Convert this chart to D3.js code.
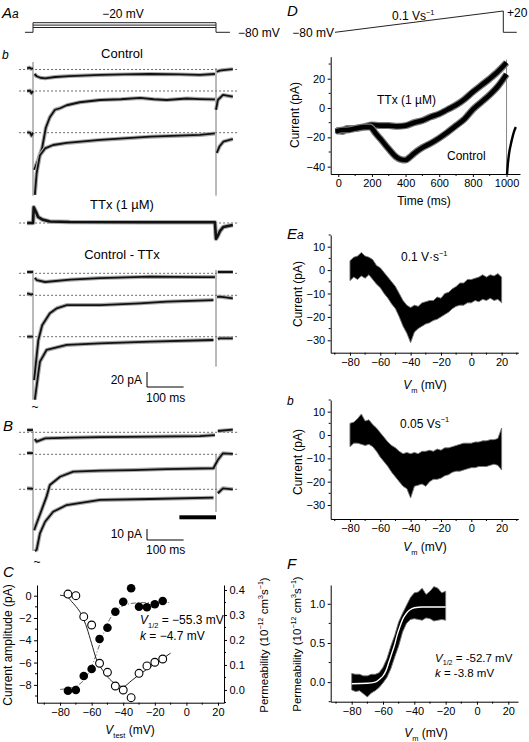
<!DOCTYPE html>
<html><head><meta charset="utf-8">
<script src="https://cdn.jsdelivr.net/npm/d3@7"></script>
<style>body{margin:0;background:#fff}svg{display:block}text{font-family:'Liberation Sans',Arial,Helvetica,sans-serif;fill:#000}</style>
</head><body><svg id="c" width="529" height="742"></svg>
<script>
// ---------------- DATA ----------------
// Panel Aa: voltage protocol (mV)
const protoA_hold = -80;
const protoA_steps = [-20, -35, -50];
// Panel Ab sweeps: [time ms, current pA] (null = break at capacitive transient)
const ctrlSweep1 = [[-16,1.6],[-10,2.5],[-5,1],[0,1.5],null,[4,-6],[10,-9],[20,-11],[33,-11.7],[60,-10],[100,-8.7],[183,-7.3],[250,-6.5],[320,-6],[400,-6.5],[456,-7.3],[497,-6],null,[502,-3],[510,-1.5],[520,-0.7],[546,0.5]];
const ctrlSweep2 = [[-16,0],[-8,0.5],[-4,-3],[0,0],null,[3,-105],[14,-92],[25,-76],[35,-49],[46,-35],[60,-25],[74,-23],[92,-19],[128,-15],[183,-12],[240,-11],[293,-9.3],[330,-11],[365,-12],[420,-10],[456,-10.7],[497,-11.3],null,[500,-25],[505,-12],[519,-5.3],[546,-7.6]];
const ctrlSweep3 = [[-16,0.5],[-8,0],[-4,-4],[0,0],null,[5,-83],[10,-54],[19,-30],[33,-21],[55,-16.4],[92,-13.7],[183,-9.7],[320,-5.3],[456,-3],[497,-1],null,[502,-27],[510,-18],[520,-12],[546,-8.4]];
const ttxSweep = [[-16,0],[0,0],[2,21],[8,15],[14,8],[25,4.7],[46,2],[100,1.3],[300,1],[497,1],[500,-21],[505,-17],[511,-10.7],[520,-5.3],[546,-2.7]];
const diffSweep1 = [[-16,1.7],[0,1.7],null,[5,-6],[10,-9],[33,-11.6],[101,-8.5],[183,-6.3],[320,-4.5],[456,-5],[497,-5],null,[505,1.7],[546,1.7]];
const diffSweep2 = [[-16,2.7],[-5,1],[0,2],null,[3,-113],[14.5,-60],[25,-40],[46,-24],[65,-17.3],[92,-13],[183,-13],[293,-10.7],[365,-8.5],[493,-6.3],null,[503,-2],[511,-1.9],[546,-4]];
const diffSweep3 = [[-16,0],[0,0],null,[5,-84],[14.5,-48.8],[19,-33.3],[37,-17.7],[92,-11],[183,-8.8],[320,-6.7],[493,-4.4],null,[505,-3],[511,-2.1],[546,-2.1]];
// Panel B sweeps
const bSweep1 = [[-16,2.1],[0,2],null,[5,-6],[10,-8.5],[33,-5.5],[101,-4.9],[183,-4.3],[320,-4],[456,-3.4],[497,-2.5],null,[505,1.2],[546,2.4]];
const bSweep2 = [[-16,1.2],[0,1],null,[3,-69],[37,-38.5],[46,-27.9],[74,-20.4],[110,-15.8],[183,-14.9],[273,-14.3],[365,-13.4],[493,-12.7],[505,-5.2],[519,0.9],[546,0.3]];
const bSweep3 = [[-16,0.9],[0,0.5],null,[5,-56],[10,-55],[19,-40],[33,-29.5],[55,-20.4],[92,-14.3],[183,-9.7],[320,-8.8],[493,-7.6],null,[505,-3.6],[519,0.9],[546,0]];
const bMeasureWindow = [400, 500];
// capacitive transients: [time, sweepIdxTop, pATop, sweepIdxBottom, pABottom]
const ctrlTransients = [[0,0,10,2,-84],[500,0,2,2,-84]];
const diffTransients = [[0,0,4.4,2,-84],[500,0,4.4,2,-40]];
const bTransients = [[0,0,1.2,2,-56],[500,1,-0.6,2,-20.6]];

// Panel C
const cVtest = [-75,-70,-65,-60,-55,-50,-45,-40,-35,-30,-25,-20,-15];
const cCurrent = [0.15,0,-1.88,-2.63,-6.06,-6.87,-8.1,-8.46,-9.15,-6.96,-6.3,-5.97,-5.68];
const cPerm = [-0.003,0,0.056,0.084,0.204,0.249,0.313,0.353,0.407,0.333,0.331,0.343,0.356];
const cCurrentFit = [[-80,0.05],[-75,-0.15],[-72.6,-0.54],[-70,-0.95],[-66.3,-1.73],[-63,-2.9],[-60,-4.3],[-57,-5.7],[-53,-6.7],[-48.5,-7.5],[-44,-8.0],[-40,-8.15],[-35,-7.65],[-30,-7.1],[-25,-6.6],[-20,-6.1],[-15,-5.65],[-10,-5.15]];
const cPermFit = [[-80,0.002],[-75,0.006],[-70,0.015],[-65,0.039],[-60,0.094],[-55.3,0.175],[-50,0.265],[-45,0.315],[-40,0.337],[-35,0.346],[-30,0.349],[-20,0.35],[-10,0.35]];

// Panel D
const dProto = [[0,-80],[1000,20],[1000,-80],[1080,-80]];
const dTTx = [[-15,-15],[25,-16],[50,-14],[100,-14],[150,-13],[200,-11.5],[250,-12],[300,-12],[350,-12.5],[400,-12],[450,-10],[500,-8.5],[550,-6],[600,-4],[650,-1],[700,2],[750,6],[800,11],[850,15.5],[900,20],[950,25],[1000,31]];
const dControl = [[-15,-16],[25,-15],[50,-15],[100,-14],[150,-13],[190,-13],[220,-17],[250,-21],[300,-28],[340,-33],[370,-35],[400,-35.5],[420,-34],[450,-31],[500,-27],[550,-24],[600,-20.5],[650,-16.5],[700,-12],[750,-7.5],[800,-1],[850,4],[900,9],[950,15],[1000,23]];
const dTail = [[1003,-45],[1008,-38],[1015,-31],[1025,-25],[1035,-20],[1045,-16],[1055,-13]];

// Panel E: [Vm, low, high] envelope of the noisy trace (pA)
const eaBand = [[-80,-4.5,4],[-77.5,-3,5.5],[-75,-4,6],[-72.5,-2.5,7.5],[-70,-3.5,6],[-67.5,-2,5.5],[-65,-4,4.5],[-62.5,-6,2],[-60,-7.5,1],[-57.5,-10,-1],[-55,-12,-3],[-52.5,-14.5,-5],[-50,-16.5,-7],[-47.5,-20,-10],[-45,-24,-13],[-42.5,-27,-15],[-40,-31,-16],[-37.5,-26.5,-15],[-35,-25,-15.5],[-32.5,-24,-14],[-30,-23,-13.5],[-27.5,-22.5,-13],[-25,-21.5,-13],[-22.5,-21,-11.5],[-20,-20,-12],[-17.5,-19,-10],[-15,-18,-9.5],[-12.5,-16.5,-8],[-10,-15.5,-7],[-7.5,-15,-5.5],[-5,-15,-5.5],[-2.5,-14,-4],[0,-14,-4],[2.5,-13,-3.5],[5,-13.5,-3],[7.5,-12.5,-2],[10,-13,-3],[12.5,-12,-2],[15,-13,-2.5],[17.5,-12.5,-1.5],[20,-14,-3]];
const ebBand = [[-80,-5,5],[-77.5,-3.5,5.5],[-75,-3.5,7],[-72.5,-4,9],[-70,-4.5,6],[-67.5,-4,6.5],[-65,-5,4.5],[-62.5,-7,3],[-60,-9.5,1],[-57.5,-11.5,-1],[-55,-13.5,-3],[-52.5,-16,-4.5],[-50,-18,-5.5],[-47.5,-20,-7],[-45,-22,-8],[-42.5,-23,-7.5],[-40,-27,-8],[-37.5,-22,-7.5],[-35,-21.5,-8],[-32.5,-21,-7],[-30,-22,-7],[-27.5,-20,-6.5],[-25,-19,-7],[-22.5,-19,-6],[-20,-18.5,-6.5],[-17.5,-17.5,-5.5],[-15,-17,-5.5],[-12.5,-16,-5],[-10,-15.5,-4.5],[-7.5,-15.5,-4],[-5,-15,-3.5],[-2.5,-14.5,-3.5],[0,-14,-3.5],[2.5,-14,-3],[5,-13.5,-3],[7.5,-13.5,-2.5],[10,-13.5,-2.5],[12.5,-13,-2],[15,-12.5,-2],[17.5,-13,-1.5],[20,-15,3]];
// Panel F
const fBand = [[-80,-0.1,0.11],[-77.5,-0.12,0.1],[-75,-0.11,0.1],[-72.5,-0.15,0.08],[-70,-0.19,0.08],[-67.5,-0.14,0.1],[-65,-0.11,0.1],[-62.5,-0.07,0.12],[-60,-0.01,0.19],[-57.5,0.06,0.3],[-55,0.17,0.46],[-52.5,0.32,0.6],[-50,0.46,0.77],[-47.5,0.64,0.88],[-45,0.75,0.98],[-42.5,0.8,1.08],[-40,0.81,1.14],[-37.5,0.8,1.15],[-35,0.79,1.2],[-32.5,0.82,1.12],[-30,0.81,1.16],[-27.5,0.78,1.22],[-25,0.79,1.2],[-22.5,0.8,1.14],[-20,0.79,1.16]];
const fFit = [[-80,-0.02],[-70,-0.015],[-65,0.0],[-62,0.04],[-60,0.08],[-58,0.15],[-56,0.27],[-54,0.39],[-52.7,0.47],[-51,0.6],[-49,0.72],[-47,0.82],[-45,0.88],[-43,0.92],[-40,0.95],[-35,0.96],[-20,0.96]];

// ---------------- DRAWING ----------------
const svg = d3.select("#c");

function rich(parent, x, y, parts, o = {}) {
  const fs = o.size || 12;
  const t = parent.append("text").attr("x", x).attr("y", y).attr("font-size", fs)
    .attr("text-anchor", o.anchor || "start");
  if (o.rot) t.attr("transform", `rotate(${o.rot},${x},${y})`);
  let shift = 0;
  parts.forEach(p => {
    const [s, st] = Array.isArray(p) ? p : [p, ""];
    const ts = t.append("tspan").text(s);
    let target = 0;
    if (st.includes("sub")) { target = fs * 0.3; ts.attr("font-size", fs * 0.62); }
    if (st.includes("sup")) { target = -fs * 0.42; ts.attr("font-size", fs * 0.62); }
    if (st.includes("i")) ts.attr("font-style", "italic");
    if (target - shift !== 0) ts.attr("dy", target - shift);
    shift = target;
  });
  return t;
}

function axis(orient, scale, pos, major, minor, fmt) {
  const gen = orient === "b" ? d3.axisBottom(scale) : orient === "l" ? d3.axisLeft(scale) : d3.axisRight(scale);
  gen.tickValues(major).tickSize(3).tickSizeOuter(0).tickPadding(2.5).tickFormat(fmt || d3.format(""));
  const g = svg.append("g").attr("transform", orient === "b" ? `translate(0,${pos})` : `translate(${pos},0)`).call(gen);
  g.select(".domain").attr("stroke", "#000").attr("stroke-width", 1);
  g.selectAll(".tick line").attr("stroke", "#000");
  g.selectAll("text").attr("font-size", 11).attr("fill", "#000")
    .attr("font-family", "'Liberation Sans',Arial,Helvetica,sans-serif");
  g.selectAll(".mt").data(minor).enter().append("line").attr("stroke", "#000")
    .attr(orient === "b" ? "x1" : "y1", d => scale(d)).attr(orient === "b" ? "x2" : "y2", d => scale(d))
    .attr(orient === "b" ? "y1" : "x1", 0)
    .attr(orient === "b" ? "y2" : "x2", orient === "l" ? -2 : 2);
  return g;
}

function panelLabel(x, y, big, small) {
  const t = svg.append("text").attr("x", x).attr("y", y).attr("font-style", "italic");
  if (big) t.append("tspan").attr("font-size", 15).text(big);
  if (small) t.append("tspan").attr("font-size", 12).text(small);
}

// ---- Panel A ----
const xA = d3.scaleLinear().domain([0, 500]).range([33, 216]);
const yProtoA = d3.scaleLinear().domain([-80, -20]).range([32.3, 22.7]);
panelLabel(2, 18, "A", "a");
{
  const g = svg.append("g").attr("stroke", "#222").attr("stroke-width", 1).attr("fill", "none");
  g.append("path").attr("d", d3.line()([[xA(-22), yProtoA(protoA_hold)], [xA(0), yProtoA(protoA_hold)]]));
  g.append("path").attr("d", d3.line()([[xA(500), yProtoA(protoA_hold)], [xA(538), yProtoA(protoA_hold)]]));
  [0, 500].forEach(t => g.append("path").attr("d", d3.line()([[xA(t), yProtoA(protoA_hold)], [xA(t), yProtoA(d3.max(protoA_steps))]])));
  protoA_steps.forEach(v => g.append("path").attr("d", d3.line()([[xA(0), yProtoA(v)], [xA(500), yProtoA(v)]])));
  svg.append("text").attr("x", 123).attr("y", 18).attr("font-size", 12).attr("text-anchor", "middle").text("\u221220 mV");
  svg.append("text").attr("x", 238).attr("y", 37).attr("font-size", 12).text("\u221280 mV");
}
panelLabel(2, 59, null, "b");

const yA = d3.scaleLinear().domain([0, 20]).range([0, -15]);
const yB = d3.scaleLinear().domain([0, 10]).range([0, -11]);
const traceLine = (ys) => d3.line().defined(d => d !== null).x(d => xA(d[0])).y(d => ys(d[1]));

function sweepGroup(bases, sweeps, ys, transients, thick) {
  bases.forEach(b => svg.append("line").attr("x1", xA(-38)).attr("x2", xA(560)).attr("y1", b).attr("y2", b)
    .attr("stroke", "#444").attr("stroke-width", 0.8).attr("stroke-dasharray", "2,2"));
  (transients || []).forEach(tr => {
    svg.append("line").attr("x1", xA(tr[0])).attr("x2", xA(tr[0]))
      .attr("y1", bases[tr[1]] + ys(tr[2])).attr("y2", bases[tr[3]] + ys(tr[4]))
      .attr("stroke", "#777").attr("stroke-width", 1);
  });
  sweeps.forEach((s, i) => {
    const g = svg.append("g").attr("transform", `translate(0,${bases[i]})`);
    g.append("path").attr("d", traceLine(ys)(s)).attr("fill", "none").attr("stroke", "#aaa")
      .attr("stroke-width", thick ? 4.6 : 4).attr("stroke-linejoin", "round");
    g.append("path").attr("d", traceLine(ys)(s)).attr("fill", "none").attr("stroke", "#111")
      .attr("stroke-width", thick ? 2.6 : 1.8).attr("stroke-linejoin", "round");
  });
}

svg.append("text").attr("x", 122).attr("y", 57.5).attr("font-size", 13).attr("text-anchor", "middle").text("Control");
sweepGroup([69.5, 91, 132.7], [ctrlSweep1, ctrlSweep2, ctrlSweep3], yA, ctrlTransients);
svg.append("text").attr("x", 122).attr("y", 208.5).attr("font-size", 13).attr("text-anchor", "middle").text("TTx (1 \u00b5M)");
sweepGroup([223], [ttxSweep], yA, [], true);
svg.append("text").attr("x", 122).attr("y", 259).attr("font-size", 13).attr("text-anchor", "middle").text("Control - TTx");
sweepGroup([273.3, 295.3, 336.7], [diffSweep1, diffSweep2, diffSweep3], yA, diffTransients);
svg.append("text").attr("x", 35).attr("y", 411).attr("font-size", 12).attr("text-anchor", "middle").text("~");

// scale bar A
{
  const x0 = 147, y0 = 387;
  svg.append("path").attr("d", d3.line()([[x0, y0 + yA(20)], [x0, y0], [x0 + xA(100) - xA(0), y0]]))
    .attr("fill", "none").attr("stroke", "#000").attr("stroke-width", 1);
  svg.append("text").attr("x", 142).attr("y", 383.5).attr("font-size", 12).attr("text-anchor", "end").text("20 pA");
  svg.append("text").attr("x", 146).attr("y", 401.5).attr("font-size", 12).text("100 ms");
}

// ---- Panel B ----
panelLabel(3, 431, "B");
sweepGroup([432.3, 454.3, 489.3], [bSweep1, bSweep2, bSweep3], yB, bTransients);
svg.append("rect").attr("x", xA(bMeasureWindow[0])).attr("width", xA(bMeasureWindow[1]) - xA(bMeasureWindow[0]))
  .attr("y", 515.3).attr("height", 4).attr("fill", "#000");
{
  const x0 = 147, y0 = 540;
  svg.append("path").attr("d", d3.line()([[x0, y0 + yB(10)], [x0, y0], [x0 + xA(100) - xA(0), y0]]))
    .attr("fill", "none").attr("stroke", "#000").attr("stroke-width", 1);
  svg.append("text").attr("x", 142).attr("y", 537.5).attr("font-size", 12).attr("text-anchor", "end").text("10 pA");
  svg.append("text").attr("x", 146).attr("y", 554).attr("font-size", 12).text("100 ms");
}
svg.append("text").attr("x", 37).attr("y", 566).attr("font-size", 12).attr("text-anchor", "middle").text("~");

// ---- Panel C ----
panelLabel(3, 577, "C");
const xC = d3.scaleLinear().domain([-94.6, 23.8]).range([37, 224]);
const yCl = d3.scaleLinear().domain([-9.6, 0.96]).range([702.7, 585]);
const yCr = d3.scaleLinear().domain([-0.051, 0.42]).range([702.7, 585]);
axis("b", xC, 702.7, [-80, -60, -40, -20, 0, 20], [-90, -70, -50, -30, -10, 10]);
axis("l", yCl, 37, [0, -2, -4, -6, -8], [-1, -3, -5, -7, -9]);
axis("r", yCr, 224, [0, 0.1, 0.2, 0.3, 0.4], [-0.05, 0.05, 0.15, 0.25, 0.35], d3.format(".1f"));
svg.append("path").attr("d", d3.line().x(d => xC(d[0])).y(d => yCr(d[1])).curve(d3.curveMonotoneX)(cPermFit))
  .attr("fill", "none").attr("stroke", "#666").attr("stroke-width", 1).attr("stroke-dasharray", "5,2,1,2");
svg.append("path").attr("d", d3.line().x(d => xC(d[0])).y(d => yCl(d[1])).curve(d3.curveMonotoneX)(cCurrentFit))
  .attr("fill", "none").attr("stroke", "#222").attr("stroke-width", 1);
svg.selectAll(".cperm").data(cVtest).enter().append("circle")
  .attr("cx", d => xC(d)).attr("cy", (d, i) => yCr(cPerm[i])).attr("r", 4.3).attr("fill", "#000");
svg.selectAll(".ccur").data(cVtest).enter().append("circle")
  .attr("cx", d => xC(d)).attr("cy", (d, i) => yCl(cCurrent[i])).attr("r", 3.9)
  .attr("fill", "#fff").attr("stroke", "#000").attr("stroke-width", 1.1);
rich(svg, 140, 624, [["V", "i"], ["1/2", "sub"], " = \u221255.3 mV"], { size: 12 });
rich(svg, 140, 640, [["k", "i"], " = \u22124.7 mV"], { size: 12 });
rich(svg, 12, 645, ["Current amplitude (pA)"], { size: 12, anchor: "middle", rot: -90 });
rich(svg, 268, 645, ["Permeability (10", ["\u221212", "sup"], " cm", ["3", "sup"], "s", ["\u22121", "sup"], ")"], { size: 11.5, anchor: "middle", rot: -90 });
rich(svg, 130, 734, [["V", "i"], ["test", "sub"], " (mV)"], { size: 12, anchor: "middle" });

// ---- Panel D ----
panelLabel(287, 16, "D");
const xProtoD = d3.scaleLinear().domain([0, 1000]).range([335, 503.3]);
const yProtoD = d3.scaleLinear().domain([-80, 20]).range([32.3, 11]);
svg.append("path").attr("d", d3.line().x(d => xProtoD(d[0])).y(d => yProtoD(d[1]))(dProto))
  .attr("fill", "none").attr("stroke", "#222").attr("stroke-width", 1);
svg.append("text").attr("x", 334).attr("y", 36.5).attr("font-size", 12).attr("text-anchor", "end").text("\u221280 mV");
rich(svg, 392, 20, ["0.1 Vs", ["\u22121", "sup"]], { size: 12 });
svg.append("text").attr("x", 507).attr("y", 17).attr("font-size", 12).text("+20");

const xD = d3.scaleLinear().domain([-45, 1080]).range([330.7, 520]);
const yD = d3.scaleLinear().domain([-45, 35]).range([174, 56.7]);
axis("b", xD, 174, [0, 200, 400, 600, 800, 1000], [100, 300, 500, 700, 900]);
axis("l", yD, 330.7, [-40, -20, 0, 20], [-30, -10, 10, 30]);
svg.append("line").attr("x1", xD(1000)).attr("x2", xD(1000)).attr("y1", yD(33)).attr("y2", yD(-45))
  .attr("stroke", "#888").attr("stroke-width", 1);
const lineD = d3.line().x(d => xD(d[0])).y(d => yD(d[1])).curve(d3.curveMonotoneX);
[dTTx, dControl].forEach(s => {
  svg.append("path").attr("d", lineD(s)).attr("fill", "none").attr("stroke", "#777").attr("stroke-width", 7).attr("stroke-linejoin", "round");
  svg.append("path").attr("d", lineD(s)).attr("fill", "none").attr("stroke", "#000").attr("stroke-width", 4.6).attr("stroke-linejoin", "round");
});
svg.append("path").attr("d", lineD(dTail)).attr("fill", "none").attr("stroke", "#000").attr("stroke-width", 2.4);
svg.append("text").attr("x", 377).attr("y", 104).attr("font-size", 12).text("TTx (1 \u00b5M)");
svg.append("text").attr("x", 447).attr("y", 160).attr("font-size", 12).text("Control");
rich(svg, 299, 115, ["Current (pA)"], { size: 12, anchor: "middle", rot: -90 });
rich(svg, 424, 205, ["Time (ms)"], { size: 12, anchor: "middle" });

// ---- Panel E ----
const xE = d3.scaleLinear().domain([-92.7, 31]).range([330.7, 518.3]);
function bandPanel(band, xs, ys) {
  const area = d3.area().x(d => xs(d[0])).y0(d => ys(d[1])).y1(d => ys(d[2]));
  svg.append("path").attr("d", area(band)).attr("fill", "#000").attr("stroke", "#777").attr("stroke-width", 0.9).attr("stroke-linejoin", "round");
}
panelLabel(287, 239, "E", "a");
const yEa = d3.scaleLinear().domain([-35.3, 15]).range([352.7, 235]);
axis("b", xE, 352.7, [-80, -60, -40, -20, 0, 20], [-90, -70, -50, -30, -10, 10, 30]);
axis("l", yEa, 330.7, [-30, -20, -10, 0, 10], [-25, -15, -5, 5, 15]);
bandPanel(eaBand, xE, yEa);
rich(svg, 401, 261, ["0.1 V\u00b7s", ["\u22121", "sup"]], { size: 12 });
rich(svg, 302, 294, ["Current (pA)"], { size: 12, anchor: "middle", rot: -90 });
rich(svg, 425, 389, [["V", "i"], ["m", "sub"], " (mV)"], { size: 12, anchor: "middle" });

panelLabel(287, 405, null, "b");
const yEb = d3.scaleLinear().domain([-36, 15]).range([519, 400]);
axis("b", xE, 519, [-80, -60, -40, -20, 0, 20], [-90, -70, -50, -30, -10, 10, 30]);
axis("l", yEb, 330.7, [-30, -20, -10, 0, 10], [-25, -15, -5, 5, 15]);
bandPanel(ebBand, xE, yEb);
rich(svg, 400, 427.5, ["0.05 Vs", ["\u22121", "sup"]], { size: 12 });
rich(svg, 302, 462, ["Current (pA)"], { size: 12, anchor: "middle", rot: -90 });
rich(svg, 425, 551, [["V", "i"], ["m", "sub"], " (mV)"], { size: 12, anchor: "middle" });

// ---- Panel F ----
panelLabel(287, 569, "F");
const xF = d3.scaleLinear().domain([-93.4, 26.2]).range([330.7, 518]);
const yF = d3.scaleLinear().domain([-0.25, 1.24]).range([701.7, 585]);
axis("b", xF, 701.7, [-80, -60, -40, -20, 0, 20], [-90, -70, -50, -30, -10, 10]);
axis("l", yF, 330.7, [0, 0.5, 1.0], [-0.25, 0.25, 0.75], d3.format(".1f"));
bandPanel(fBand, xF, yF);
svg.append("path").attr("d", d3.line().x(d => xF(d[0])).y(d => yF(d[1])).curve(d3.curveMonotoneX)(fFit))
  .attr("fill", "none").attr("stroke", "#fff").attr("stroke-width", 1.4);
rich(svg, 435, 662, [["V", "i"], ["1/2", "sub"], " = -52.7 mV"], { size: 11.5 });
rich(svg, 435, 677, [["k", "i"], " = -3.8 mV"], { size: 11.5 });
rich(svg, 301, 644, ["Permeability (10", ["\u221212", "sup"], " cm", ["3", "sup"], "s", ["\u22121", "sup"], ")"], { size: 11.5, anchor: "middle", rot: -90 });
rich(svg, 426, 737, [["V", "i"], ["m", "sub"], " (mV)"], { size: 12, anchor: "middle" });
</script></body></html>
